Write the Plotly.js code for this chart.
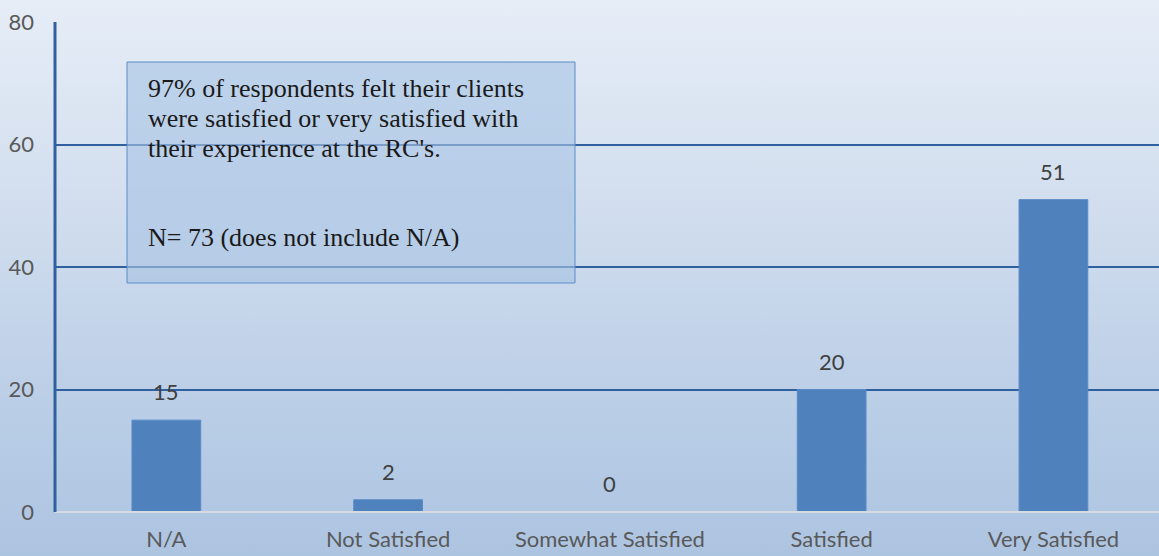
<!DOCTYPE html>
<html>
<head>
<meta charset="utf-8">
<script src="https://cdn.plot.ly/plotly-3.0.1.min.js"></script>
<style>
  html, body { margin: 0; padding: 0; }
  #chart {
    width: 1159px; height: 556px;
    background: linear-gradient(to bottom, #e6edf7 0%, #d3dfef 35%, #b9cde6 75%, #adc4e1 100%);
  }
</style>
</head>
<body>
<div id="chart"></div>
<script>
const categories = ["N/A", "Not Satisfied", "Somewhat Satisfied", "Satisfied", "Very Satisfied"];
const counts = [15, 2, 0, 20, 51];
const yTicks = [0, 20, 40, 60, 80];
const noteLines = [
  "97% of respondents felt their clients",
  "were satisfied or very satisfied with",
  "their experience at the RC's."
];
const noteN = "N= 73 (does not include N/A)";

const labelFont = { family: "Lato, 'Open Sans', sans-serif", size: 22, color: "#595959" };
const noteFont = { family: "'Liberation Serif', 'DejaVu Serif', serif", size: 26, color: "#1a1a1a" };

const trace = {
  type: "bar",
  x: categories,
  y: counts,
  width: 0.31,
  marker: { color: "#4f81bd", line: { color: "#5a8bc6", width: 1 } },
  hoverinfo: "skip"
};

const valueLabels = categories.map((c, i) => ({
  x: c, y: counts[i], xref: "x", yref: "y",
  text: String(counts[i]), showarrow: false,
  yanchor: "bottom", yshift: 13,
  font: { family: "Lato, 'Open Sans', sans-serif", size: 22, color: "#404040" }
}));

const plotL = 55, plotT = 22, plotW = 1104, plotH = 490;
const px = v => (v - plotL) / plotW;
const py = v => 1 - (v - plotT) / plotH;

const noteAnns = noteLines.map((t, i) => ({
  xref: "paper", yref: "paper", x: px(146), y: py(88 + 30 * i),
  xanchor: "left", yanchor: "middle", align: "left", showarrow: false,
  text: t, font: noteFont
})).concat([{
  xref: "paper", yref: "paper", x: px(146), y: py(238),
  xanchor: "left", yanchor: "middle", align: "left", showarrow: false,
  text: noteN, font: noteFont
}]);

const layout = {
  width: 1159, height: 556,
  margin: { l: plotL, r: 0, t: plotT, b: 44, pad: 0 },
  paper_bgcolor: "rgba(0,0,0,0)",
  plot_bgcolor: "rgba(0,0,0,0)",
  showlegend: false,
  xaxis: {
    type: "category",
    range: [-0.502, 4.476],
    showgrid: false,
    zeroline: false,
    showline: false,
    ticks: "",
    ticklabelstandoff: 12,
    tickfont: labelFont,
    fixedrange: true
  },
  yaxis: {
    range: [0, 80],
    tickvals: yTicks,
    ticktext: yTicks.map(String),
    showgrid: true,
    gridcolor: "#30609e",
    gridwidth: 2,
    zeroline: false,
    showline: false,
    ticks: "",
    ticklabelstandoff: 20,
    tickfont: labelFont,
    fixedrange: true
  },
  shapes: [
    { type: "line", xref: "paper", yref: "paper", x0: 0, x1: 1, y0: 0, y1: 0,
      line: { color: "#d6dbe2", width: 2 } },
    { type: "line", xref: "paper", yref: "paper", x0: 0, x1: 0, y0: 0, y1: 1,
      line: { color: "#30609e", width: 3 } },
    { type: "rect", xref: "paper", yref: "paper",
      x0: px(127), x1: px(575), y0: py(283), y1: py(62),
      fillcolor: "rgba(168,196,228,0.62)",
      line: { color: "#5b8bc8", width: 1 }, layer: "above" }
  ],
  annotations: valueLabels.concat(noteAnns)
};

Plotly.newPlot("chart", [trace], layout, { displayModeBar: false, staticPlot: true });
</script>
</body>
</html>
